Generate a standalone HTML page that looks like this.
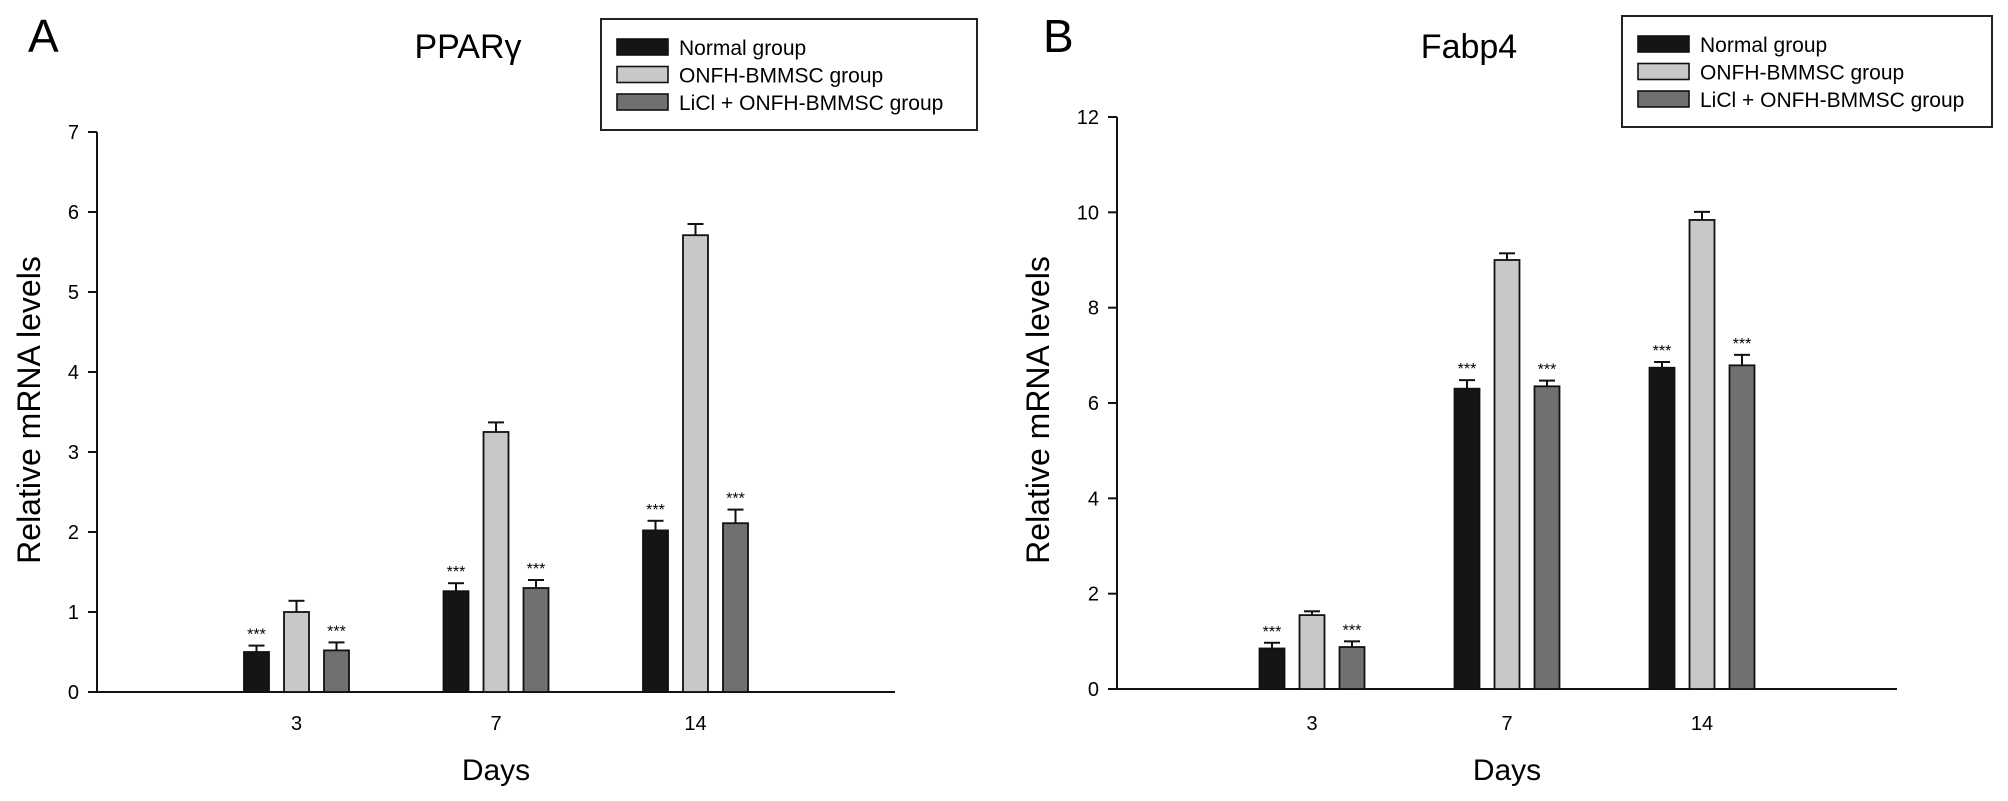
<!DOCTYPE html>
<html><head><meta charset="utf-8"><style>
html,body{margin:0;padding:0;background:#fff}
svg{display:block;font-family:"Liberation Sans",Arial,sans-serif}
</style></head><body>
<svg id="fig" width="2008" height="801" viewBox="0 0 2008 801"></svg>
<script>
const categories = ["3","7","14"];
const seriesNames = ["Normal group","ONFH-BMMSC group","LiCl + ONFH-BMMSC group"];
const pparNormal = [0.50, 1.26, 2.02];
const pparOnfh = [1.00, 3.25, 5.71];
const pparLicl = [0.52, 1.30, 2.11];
const pparNormalErr = [0.08, 0.10, 0.12];
const pparOnfhErr = [0.14, 0.12, 0.14];
const pparLiclErr = [0.10, 0.10, 0.17];
const pparSig = [["***","","***"],["***","","***"],["***","","***"]];
const pparTicks = [0,1,2,3,4,5,6,7];
const fabpNormal = [0.85, 6.30, 6.74];
const fabpOnfh = [1.55, 9.00, 9.84];
const fabpLicl = [0.88, 6.35, 6.79];
const fabpNormalErr = [0.12, 0.18, 0.12];
const fabpOnfhErr = [0.08, 0.14, 0.17];
const fabpLiclErr = [0.12, 0.12, 0.22];
const fabpSig = [["***","","***"],["***","","***"],["***","","***"]];
const fabpTicks = [0,2,4,6,8,10,12];

const NS="http://www.w3.org/2000/svg";
const svg=document.getElementById('fig');
const fills=["#151515","#c8c8c8","#707070"];
function mk(tag,attrs,parent,text){const e=document.createElementNS(NS,tag);for(const k in attrs)e.setAttribute(k,attrs[k]);if(text!==undefined)e.textContent=text;(parent||svg).appendChild(e);return e;}

function panel(cfg){
  const g=mk('g',{});
  
  
  const yScale=v=>cfg.y0-(v/cfg.ymax)*(cfg.y0-cfg.ytop);
  const nCat=categories.length;
  const groupW=(cfg.xr-cfg.xl)/(nCat+1);
  const xScale=i=>cfg.xl+groupW*(i+1);
  // panel letter
  const L=mk('text',{x:cfg.letterX,y:52,'font-size':46},g,cfg.letter);
  
  
  const T=mk('text',{x:cfg.titleX,y:58,'font-size':34,'text-anchor':'middle'},g,cfg.title);
  
  
  // y axis
  const ya=mk('line',{x1:cfg.xl,y1:cfg.ytop,x2:cfg.xl,y2:cfg.y0,stroke:'#111','stroke-width':2},g);
  
  
  cfg.ticks.forEach(t=>{
    const y=yScale(t);
    const tk=mk('line',{x1:cfg.xl-9,y1:y,x2:cfg.xl,y2:y,stroke:'#111','stroke-width':2},g);
    
    
    const tl=mk('text',{x:cfg.xl-18,y:y+7,'font-size':20,'text-anchor':'end'},g,String(t));
    
    
  });
  const xa=mk('line',{x1:cfg.xl,y1:cfg.y0,x2:cfg.xr,y2:cfg.y0,stroke:'#111','stroke-width':2},g);
  
  
  categories.forEach((c,i)=>{
    const xl=mk('text',{x:xScale(i),y:730,'font-size':20,'text-anchor':'middle'},g,c);
    
    
  });
  const xt=mk('text',{x:(cfg.xl+cfg.xr)/2,y:780,'font-size':30,'text-anchor':'middle'},g,'Days');
  
  
  const yt=mk('text',{x:0,y:0,'font-size':32,'text-anchor':'middle',transform:`translate(${cfg.ytitleX},${cfg.ytitleY}) rotate(-90)`},g,'Relative mRNA levels');
  
  
  // bars
  const bw=25, step=40;
  cfg.series.forEach((vals,s)=>{
    vals.forEach((v,i)=>{
      const cx=xScale(i)+(s-1)*step;
      const top=yScale(v);
      const errTop=yScale(v+cfg.errs[s][i]);
      const el=mk('line',{x1:cx,y1:top,x2:cx,y2:errTop,stroke:'#111','stroke-width':2},g);
      
      
      const ec=mk('line',{x1:cx-8,y1:errTop,x2:cx+8,y2:errTop,stroke:'#111','stroke-width':2},g);
      
      
      const r=mk('rect',{x:cx-bw/2,y:top,width:bw,height:cfg.y0-top,fill:fills[s],stroke:'#111','stroke-width':1.8},g);
      
      
      const sig=cfg.sig[i][s];
      if(sig){
        const st=mk('text',{x:cx,y:errTop-6,'font-size':16,'text-anchor':'middle'},g,sig);
        
        
      }
    });
  });
  // legend
  const lg=mk('g',{},g);
  
  
  mk('rect',{x:cfg.legX,y:cfg.legY,width:cfg.legW,height:111,fill:'#fff',stroke:'#222','stroke-width':2},lg);
  seriesNames.forEach((n,s)=>{
    const ry=cfg.legY+28+s*27.5;
    const sw=mk('rect',{x:cfg.legX+16,y:ry-8,width:51,height:16,fill:fills[s],stroke:'#111','stroke-width':1.6},lg);
    
    
    const lt=mk('text',{x:cfg.legX+78,y:ry+8,'font-size':21},lg,n);
    
    
  });
}
panel({id:'ppar',letter:'A',letterX:28,title:'PPARγ',titleX:468,xl:97,xr:895,y0:692,ytop:132,ymax:7,ticks:pparTicks,
  series:[pparNormal,pparOnfh,pparLicl],errs:[pparNormalErr,pparOnfhErr,pparLiclErr],sig:pparSig,
  ytitleX:40,ytitleY:410,legX:601,legY:19,legW:376});
panel({id:'fabp4',letter:'B',letterX:1043,title:'Fabp4',titleX:1469,xl:1117,xr:1897,y0:689,ytop:117,ymax:12,ticks:fabpTicks,
  series:[fabpNormal,fabpOnfh,fabpLicl],errs:[fabpNormalErr,fabpOnfhErr,fabpLiclErr],sig:fabpSig,
  ytitleX:1049,ytitleY:410,legX:1622,legY:16,legW:370});
</script>
</body></html>
